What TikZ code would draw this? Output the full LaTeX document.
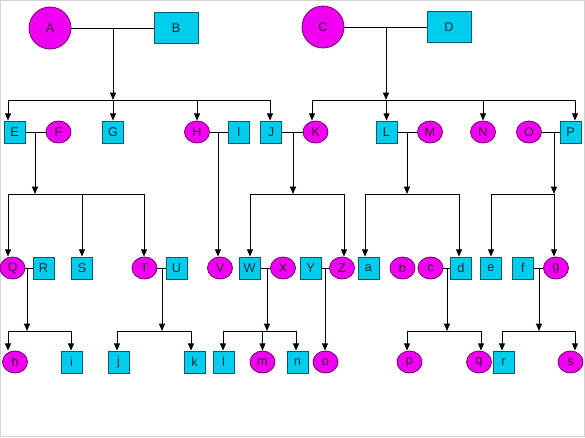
\documentclass[tikz,border=0pt]{standalone}
\usepackage{fontspec}
\setmainfont{Liberation Sans}
\usetikzlibrary{arrows.meta,shapes.geometric}
\definecolor{femfill}{HTML}{F000F0}
\definecolor{femline}{HTML}{70006E}
\definecolor{femtext}{HTML}{4A004A}
\definecolor{malefill}{HTML}{00CCEE}
\definecolor{maleline}{HTML}{005C6A}
\definecolor{maletext}{HTML}{00303C}
\definecolor{framegray}{HTML}{D4D4D4}
\begin{document}
\begin{tikzpicture}
                [x=0.75pt, y=-0.75pt, font=\fontsize{9.5}{11}\selectfont,
                 female/.style={ellipse, draw=femline, fill=femfill, text=femtext, line width=0.6pt, minimum width=18.75pt, minimum height=16.5pt, inner sep=0pt},
                 male/.style={rectangle, draw=maleline, fill=malefill, text=maletext, line width=0.6pt, minimum width=15.75pt, minimum height=16.5pt, inner sep=0pt},
                 bigfemale/.style={female, minimum width=31.5pt, minimum height=31.5pt},
                 bigmale/.style={male, minimum width=33pt, minimum height=23.25pt},
                 couple/.style={draw, line width=0.75pt},
                 descent/.style={draw, line width=0.75pt, -{Triangle[length=5.5pt, width=4.5pt]}}]
                \useasboundingbox (0,0) rectangle (585,437);
                \draw[framegray, line width=0.75pt] (0.5,0.5) rectangle (584,436);
                % Define nodes
                \node[bigfemale] (A) at (50,28) {A};
                \node[bigmale] (B) at (176,28) {B};
                \node[bigfemale] (C) at (323,27) {C};
                \node[bigmale] (D) at (449,27) {D};
                % second generation
                \node[male] (E) at (14.5,132) {E};
                \node[female] (F) at (58.5,132) {F};
                \node[male] (G) at (113,132) {G};
                \node[female] (H) at (197,132) {H};
                \node[male] (I) at (239,132) {I};
                \node[male] (J) at (271,132) {J};
                \node[female] (K) at (315.5,132) {K};
                \node[male] (L) at (386.5,132) {L};
                \node[female] (M) at (430,132) {M};
                \node[female] (N) at (483,132) {N};
                \node[female] (O) at (529,132) {O};
                \node[male] (P) at (570.5,132) {P};
                % third generation
                \node[female] (Q) at (12.5,268) {Q};
                \node[male] (R) at (43.5,268) {R};
                \node[male] (S) at (82,268) {S};
                \node[female] (T) at (144.5,268) {T};
                \node[male] (U) at (176.5,268) {U};
                \node[female] (V) at (220,268) {V};
                \node[male] (W) at (249.5,268) {W};
                \node[female] (X) at (283,268) {X};
                \node[male] (Y) at (310.5,268) {Y};
                \node[female] (Z) at (342,268) {Z};
                \node[male] (a) at (368.5,268) {a};
                \node[female] (b) at (402.5,268) {b};
                \node[female] (c) at (430.5,268) {c};
                \node[male] (d) at (461,268) {d};
                \node[male] (e) at (491,268) {e};
                \node[male] (f) at (523,268) {f};
                \node[female] (g) at (556,268) {g};
                % fourth generation
                \node[female] (h) at (15,362) {h};
                \node[male] (i) at (71.5,362) {i};
                \node[male] (j) at (118.5,362) {j};
                \node[male] (k) at (194.5,362) {k};
                \node[male] (l) at (223.5,362) {l};
                \node[female] (m) at (262.5,362) {m};
                \node[male] (n) at (297.5,362) {n};
                \node[female] (o) at (325.5,362) {o};
                \node[female] (p) at (409.5,362) {p};
                \node[female] (q) at (479,362) {q};
                \node[male] (r) at (503.5,362) {r};
                \node[female] (s) at (570.5,362) {s};
                % Define coordinates
                \coordinate (AB) at (113,28);   \coordinate (AB1) at (8,100);   \coordinate (AB2) at (270,100);
                \coordinate (CD) at (386,27);   \coordinate (CD1) at (312,100); \coordinate (CD2) at (575,100);
                \coordinate (EF) at (35,132);   \coordinate (EF1) at (8,194);   \coordinate (EF2) at (144,194);
                \coordinate (HI) at (218,132);
                \coordinate (JK) at (293,132);  \coordinate (JK1) at (250,194); \coordinate (JK2) at (344,194);
                \coordinate (LM) at (407,132);  \coordinate (LM1) at (365,194); \coordinate (LM2) at (459,194);
                \coordinate (OP) at (554,132);  \coordinate (OP1) at (491,194); \coordinate (OP2) at (554,194);
                \coordinate (QR) at (27,268);   \coordinate (QR1) at (8,331);   \coordinate (QR2) at (71,331);
                \coordinate (TU) at (162,268);  \coordinate (TU1) at (117,331); \coordinate (TU2) at (191,331);
                \coordinate (WX) at (267,268);  \coordinate (WX1) at (223,331); \coordinate (WX2) at (296,331);
                \coordinate (YZ) at (325,268);
                \coordinate (cd) at (447,268);  \coordinate (cd1) at (407,331); \coordinate (cd2) at (481,331);
                \coordinate (fg) at (539,268);  \coordinate (fg1) at (502,331); \coordinate (fg2) at (575,331);
                % Define edges
                \draw[couple] (A) -- (B);
                \draw[couple] (C) -- (D);
                \draw[couple] (E) -- (F);
                \draw[couple] (H) -- (I);
                \draw[couple] (J) -- (K);
                \draw[couple] (L) -- (M);
                \draw[couple] (O) -- (P);
                \draw[couple] (Q) -- (R);
                \draw[couple] (T) -- (U);
                \draw[couple] (W) -- (X);
                \draw[couple] (Y) -- (Z);
                \draw[couple] (c) -- (d);
                \draw[couple] (f) -- (g);
                % descent lines
                \foreach \p/\u/\v in {AB/E/J, CD/K/P, EF/Q/T, JK/W/Z, LM/a/d, OP/e/g, QR/h/i, TU/j/k, WX/l/n, cd/p/q, fg/r/s} {
                    \draw[descent] (\p) -- (\p |- \p1);
                    \draw[couple] (\p1) -- (\p2);
                    \draw[descent] (\p1) -- (\p1 |- \u.north);
                    \draw[descent] (\p2) -- (\p2 |- \v.north);
                }
                \draw[descent] (G.north |- AB1) -- (G);
                \draw[descent] (H.north |- AB1) -- (H);
                \draw[descent] (L.north |- CD1) -- (L);
                \draw[descent] (N.north |- CD1) -- (N);
                \draw[descent] (S.north |- EF1) -- (S);
                \draw[descent] (m.north |- WX1) -- (m);
                \draw[descent] (HI) -- (HI |- V.north);
                \draw[descent] (YZ) -- (YZ |- o.north);
            \end{tikzpicture}
\end{document}
